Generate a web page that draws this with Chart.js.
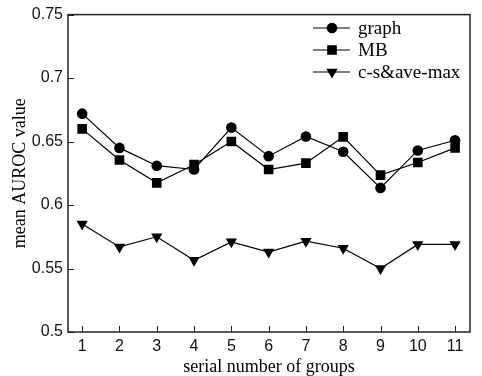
<!DOCTYPE html>
<html>
<head>
<meta charset="utf-8">
<script src="https://cdn.jsdelivr.net/npm/chart.js@4/dist/chart.umd.min.js"></script>
<style>
body { margin: 0; background: #fff; }
</style>
</head>
<body>
<canvas id="myChart" width="482" height="376"></canvas>
<script>
const groups = [1, 2, 3, 4, 5, 6, 7, 8, 9, 10, 11];
const graphVals = [0.672, 0.645, 0.631, 0.628, 0.661, 0.6385, 0.654, 0.642, 0.6135, 0.643, 0.651];
const mbVals = [0.660, 0.6355, 0.6175, 0.6318, 0.650, 0.628, 0.633, 0.6537, 0.6236, 0.6335, 0.645];
const csVals = [0.585, 0.567, 0.575, 0.5565, 0.571, 0.563, 0.5715, 0.566, 0.550, 0.569, 0.569];
const yTicks = [0.5, 0.55, 0.6, 0.65, 0.7, 0.75];
const seriesNames = ['graph', 'MB', 'c-s\u0026ave-max'];

function pts(vals) {
    return groups.map((g, i) => ({ x: g, y: vals[i] }));
}

// box, inward ticks and the legend
const frame = {
    id: 'frame',
    afterDraw(chart) {
        const ctx = chart.ctx;
        const a = chart.chartArea;
        const xs = chart.scales.x, ys = chart.scales.y;
        ctx.save();
        ctx.strokeStyle = '#222';
        ctx.lineWidth = 1.5;
        ctx.strokeRect(a.left, a.top, a.right - a.left, a.bottom - a.top);
        ctx.lineWidth = 1;
        ctx.beginPath();
        yTicks.forEach(v => {
            const y = Math.round(ys.getPixelForValue(v)) + 0.5;
            ctx.moveTo(a.left, y);
            ctx.lineTo(a.left + 6, y);
        });
        groups.forEach(g => {
            const x = Math.round(xs.getPixelForValue(g)) + 0.5;
            ctx.moveTo(x, a.bottom);
            ctx.lineTo(x, a.bottom - 6);
        });
        ctx.stroke();

        // legend
        const rows = [28, 50, 72];
        ctx.font = '19px "Liberation Serif"';
        ctx.textBaseline = 'middle';
        chart.data.datasets.forEach((ds, i) => {
            const y = rows[i];
            ctx.strokeStyle = '#000';
            ctx.lineWidth = 1.2;
            ctx.beginPath();
            ctx.moveTo(313, y);
            ctx.lineTo(350, y);
            ctx.stroke();
            ctx.fillStyle = '#000';
            Chart.helpers.drawPoint(ctx, {
                pointStyle: ds.pointStyle,
                radius: ds.pointRadius,
                rotation: ds.pointRotation || 0,
                borderWidth: 0
            }, 332, y);
            ctx.fillStyle = '#000';
            ctx.fillText(seriesNames[i], 358, y + 1);
        });
        ctx.restore();
    }
};

const ctx = document.getElementById('myChart');
const myChart = new Chart(ctx, {
    type: 'line',
    data: {
        datasets: [{
            label: seriesNames[0],
            data: pts(graphVals),
            borderColor: '#000',
            backgroundColor: '#000',
            borderWidth: 1.2,
            pointStyle: 'circle',
            pointRadius: 5.3,
            pointBorderWidth: 0
        }, {
            label: seriesNames[1],
            data: pts(mbVals),
            borderColor: '#000',
            backgroundColor: '#000',
            borderWidth: 1.2,
            pointStyle: 'rect',
            pointRadius: 6.8,
            pointBorderWidth: 0
        }, {
            label: seriesNames[2],
            data: pts(csVals),
            borderColor: '#000',
            backgroundColor: '#000',
            borderWidth: 1.2,
            pointStyle: 'triangle',
            pointRotation: 180,
            pointRadius: 6.5,
            pointBorderWidth: 0
        }]
    },
    options: {
        responsive: false,
        animation: false,
        layout: {
            padding: { top: 14, right: 12, left: 0, bottom: 0 }
        },
        plugins: {
            legend: { display: false },
            tooltip: { enabled: false }
        },
        scales: {
            x: {
                type: 'linear',
                min: 0.62,
                max: 11.4,
                afterFit: s => { s.height = 44; },
                afterBuildTicks: s => { s.ticks = groups.map(v => ({ value: v })); },
                grid: { display: false, drawTicks: false },
                border: { display: false },
                ticks: {
                    padding: 5,
                    color: '#111',
                    font: { family: '"Liberation Sans"', size: 16 },
                    callback: v => String(v)
                },
                title: {
                    display: true,
                    text: 'serial number of groups',
                    color: '#000',
                    font: { family: '"Liberation Serif"', size: 18, lineHeight: 1 },
                    padding: { top: 0, bottom: 0 }
                }
            },
            y: {
                min: 0.5,
                max: 0.75,
                afterFit: s => { s.width = 68; },
                afterBuildTicks: s => { s.ticks = yTicks.map(v => ({ value: v })); },
                grid: { display: false, drawTicks: false },
                border: { display: false },
                ticks: {
                    padding: 5,
                    color: '#111',
                    font: { family: '"Liberation Sans"', size: 16 },
                    callback: v => String(Number(v.toFixed(2)))
                },
                title: {
                    display: true,
                    text: 'mean AUROC value',
                    color: '#000',
                    font: { family: '"Liberation Serif"', size: 18 },
                    padding: { top: 9, bottom: 0 }
                }
            }
        }
    },
    plugins: [frame]
});
</script>
</body>
</html>
